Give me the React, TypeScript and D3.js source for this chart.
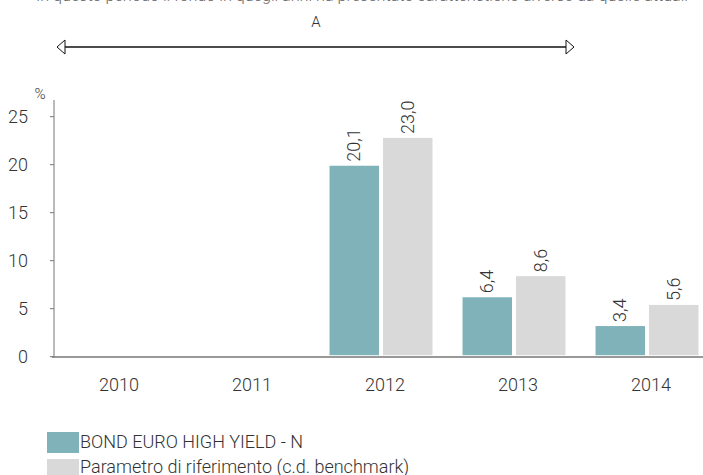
import React from "react";
import * as d3 from "d3";

const categories = ["2010", "2011", "2012", "2013", "2014"];
const seriesNames = ["BOND EURO HIGH YIELD - N", "Parametro di riferimento (c.d. benchmark)"];
const fundValues: (number | null)[] = [null, null, 20.1, 6.4, 3.4];
const benchValues: (number | null)[] = [null, null, 23.0, 8.6, 5.6];
const yTicks = [0, 5, 10, 15, 20, 25];
const colors = ["#7fb3b9", "#d9d9d9"];
const topNote = "In questo periodo il fondo in quegli anni ha presentato caratteristiche diverse da quelle attuali";

const W = 703;
const H = 475;
const FONT = "Roboto, 'Open Sans', sans-serif";

export default function App() {
  const x0 = d3
    .scaleBand<string>()
    .domain(categories)
    .range([48.5, 713.5])
    .paddingInner(0.226)
    .paddingOuter(0.113);
  const x1 = d3
    .scaleBand<number>()
    .domain([0, 1])
    .range([0, x0.bandwidth()])
    .paddingInner(0.075);
  const y = d3.scaleLinear().domain([0, 25]).range([356.7, 116.7]);
  const series = [fundValues, benchValues];
  const fmt = (v: number) => v.toFixed(1).replace(".", ",");
  const axisX = 54;

  return (
    <svg
      width={W}
      height={H}
      style={{ position: "absolute", left: 0, top: 0, background: "#fff" }}
      fontFamily={FONT}
    >
      {/* top cut-off note */}
      <text
        x={36}
        y={1}
        fontSize={17}
        fill="#666"
        fontWeight={300}
        textLength={652}
        lengthAdjust="spacingAndGlyphs"
      >
        {topNote}
      </text>
      {/* arrow annotation */}
      <text x={316} y={27} fontSize={15} fill="#333" textAnchor="middle" fontWeight={300}>
        A
      </text>
      <line x1={64} x2={566} y1={47} y2={47} stroke="#111" strokeWidth={1.6} />
      <path d="M57,47 L65,40 L65,54 Z" fill="#fff" stroke="#111" strokeWidth={1} />
      <path d="M574,47 L566,40 L566,54 Z" fill="#fff" stroke="#111" strokeWidth={1} />

      {/* y axis */}
      <line x1={axisX} x2={axisX} y1={100} y2={357} stroke="#777" strokeWidth={1} />
      {yTicks.map((t) => (
        <g key={t}>
          <line x1={axisX - 4} x2={axisX} y1={y(t)} y2={y(t)} stroke="#777" />
          <text
            x={28}
            y={y(t)}
            dy="0.35em"
            textAnchor="end"
            fontSize={18}
            fill="#333"
            fontWeight={300}
          >
            {t}
          </text>
        </g>
      ))}
      <text x={40} y={99} textAnchor="middle" fontSize={15} fill="#333" fontWeight={300}>
        %
      </text>

      {/* bars */}
      {categories.map((c, i) => (
        <g key={c} transform={`translate(${x0(c)},0)`}>
          {series.map((s, k) => {
            const v = s[i];
            if (v == null) return null;
            const bx = x1(k)!;
            const bw = x1.bandwidth();
            const top = y(v) + 2;
            return (
              <g key={k}>
                <rect x={bx} y={top} width={bw} height={y(0) - 1.5 - top} fill={colors[k]} />
                <text
                  transform={`translate(${bx + bw / 2 + 6},${top - 4}) rotate(-90)`}
                  fontSize={18}
                  fill="#333"
                  fontWeight={300}
                >
                  {fmt(v)}
                </text>
              </g>
            );
          })}
        </g>
      ))}

      {/* x axis */}
      <line x1={52} x2={W} y1={357} y2={357} stroke="#777" strokeWidth={1.5} />
      {categories.map((c) => (
        <text
          key={c}
          x={x0(c)! + x0.bandwidth() / 2 + 4}
          y={391}
          textAnchor="middle"
          fontSize={18}
          fill="#333"
          fontWeight={300}
        >
          {c}
        </text>
      ))}

      {/* legend */}
      {seriesNames.map((n, k) => (
        <g key={n} transform={`translate(47,${432 + k * 27})`}>
          <rect x={0} y={0} width={32} height={21} fill={colors[k]} />
          <text x={33} y={16 - k * 2} fontSize={18} fill="#333" fontWeight={300}>
            {n}
          </text>
        </g>
      ))}
    </svg>
  );
}
